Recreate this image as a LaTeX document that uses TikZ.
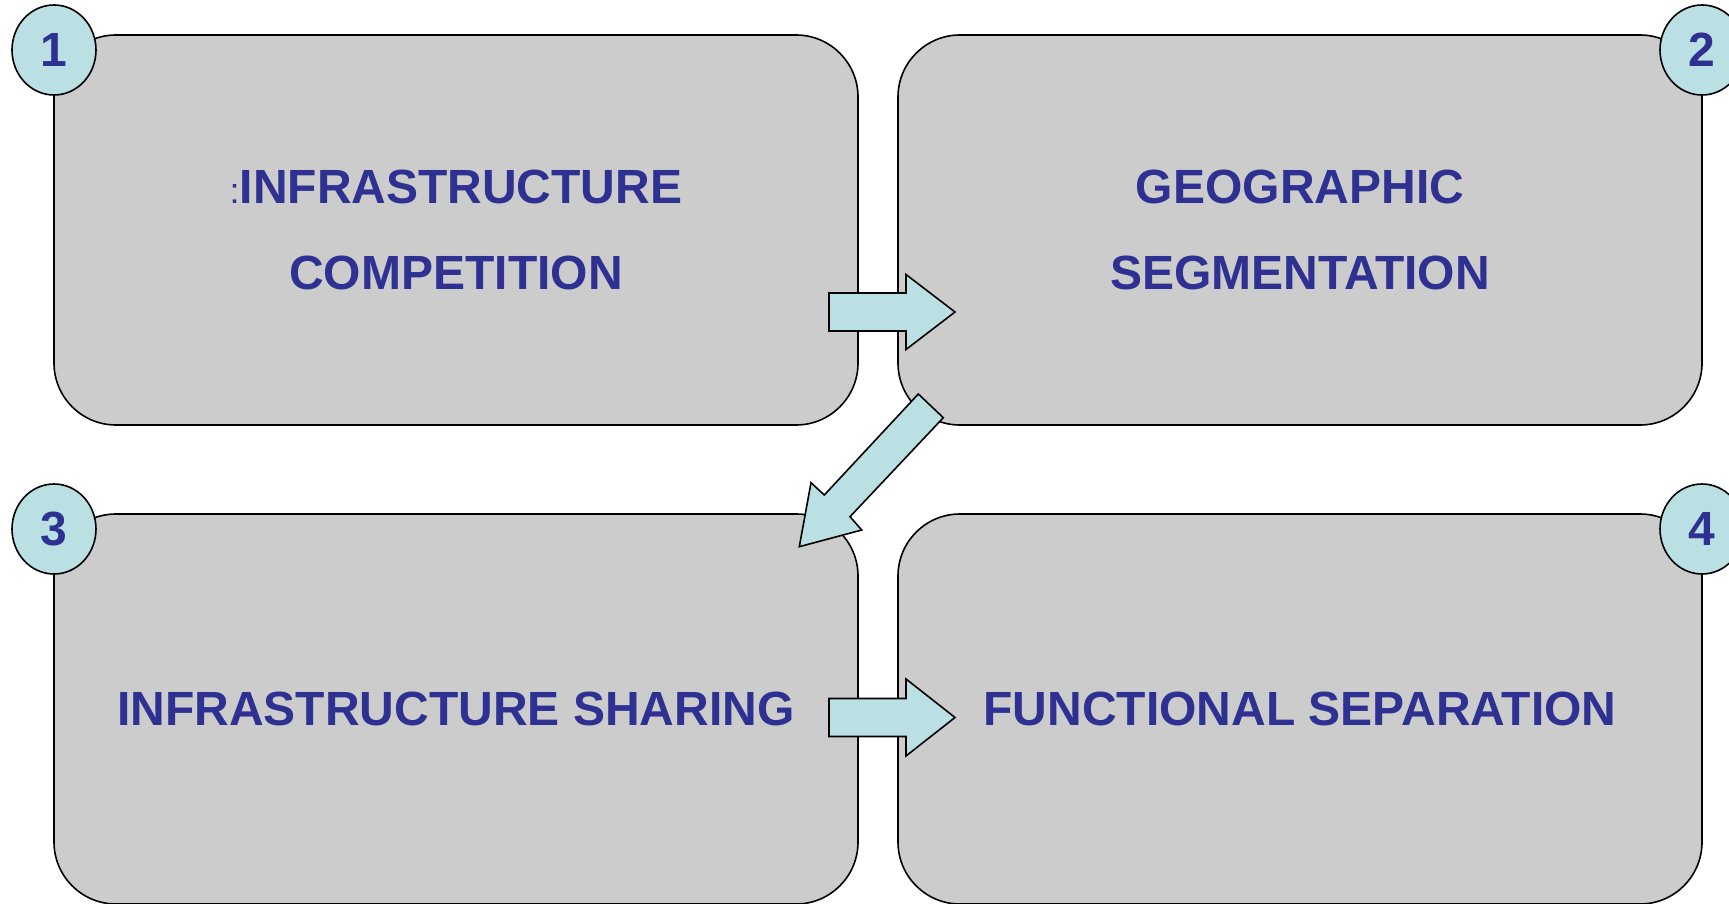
\documentclass[tikz,border=0pt]{standalone}
\usepackage{fontspec}
\setmainfont{Liberation Sans}
\usetikzlibrary{shapes.geometric}
\definecolor{panelgray}{HTML}{CCCCCC}
\definecolor{tealfill}{HTML}{BBE0E3}
\definecolor{navytext}{HTML}{2E3192}
\tikzset{
  panel/.style={draw=black, line width=1.6pt, fill=panelgray, rounded corners=62pt,
    minimum width=804pt, minimum height=390pt, inner sep=0pt, text=navytext,
    font=\bfseries\fontsize{48}{86}\selectfont, align=center},
  badge/.style={ellipse, draw=black, line width=1.6pt, fill=tealfill,
    minimum width=84pt, minimum height=90pt, inner sep=0pt, text=navytext,
    font=\bfseries\fontsize{48}{48}\selectfont},
  blockarrow/.style={draw=black, line width=1.6pt, fill=tealfill, line join=miter},
}
\begin{document}
\begin{tikzpicture}[x=1pt, y=-1pt]
  \useasboundingbox (0,0) rectangle (1729,904);

  % the four stage panels
  \node[panel] (p1) at (456,230) {{\mdseries\fontsize{36}{36}\selectfont:}INFRASTRUCTURE\\COMPETITION};
  \node[panel] (p2) at (1300,230) {GEOGRAPHIC\\SEGMENTATION};
  \node[panel] (p3) at (456,709) {INFRASTRUCTURE SHARING};
  \node[panel] (p4) at (1300,709) {FUNCTIONAL SEPARATION};

  % numbered badges on the outer corners
  \node[badge] (n1) at (54,50) {1};
  \node[badge] (n2) at (1702,50) {2};
  \node[badge] (n3) at (54,529) {3};
  \node[badge] (n4) at (1702,529) {4};

  % block arrows between the stages
  \begin{scope}[shift={(829,312)}]
    \draw[blockarrow] (0,-19) -- (77,-19) -- (77,-37.5) -- (126,0)
      -- (77,37.5) -- (77,19) -- (0,19) -- cycle;
  \end{scope}
  \draw[blockarrow] (918.3,394) -- (824.3,495) -- (811,482.7) -- (799.3,546.7)
    -- (861.7,530) -- (850,516.7) -- (943.3,417.7) -- cycle;
  \begin{scope}[shift={(829,717.5)}]
    \draw[blockarrow] (0,-19) -- (77,-19) -- (77,-38.5) -- (126,0)
      -- (77,38.5) -- (77,19) -- (0,19) -- cycle;
  \end{scope}
\end{tikzpicture}
\end{document}
